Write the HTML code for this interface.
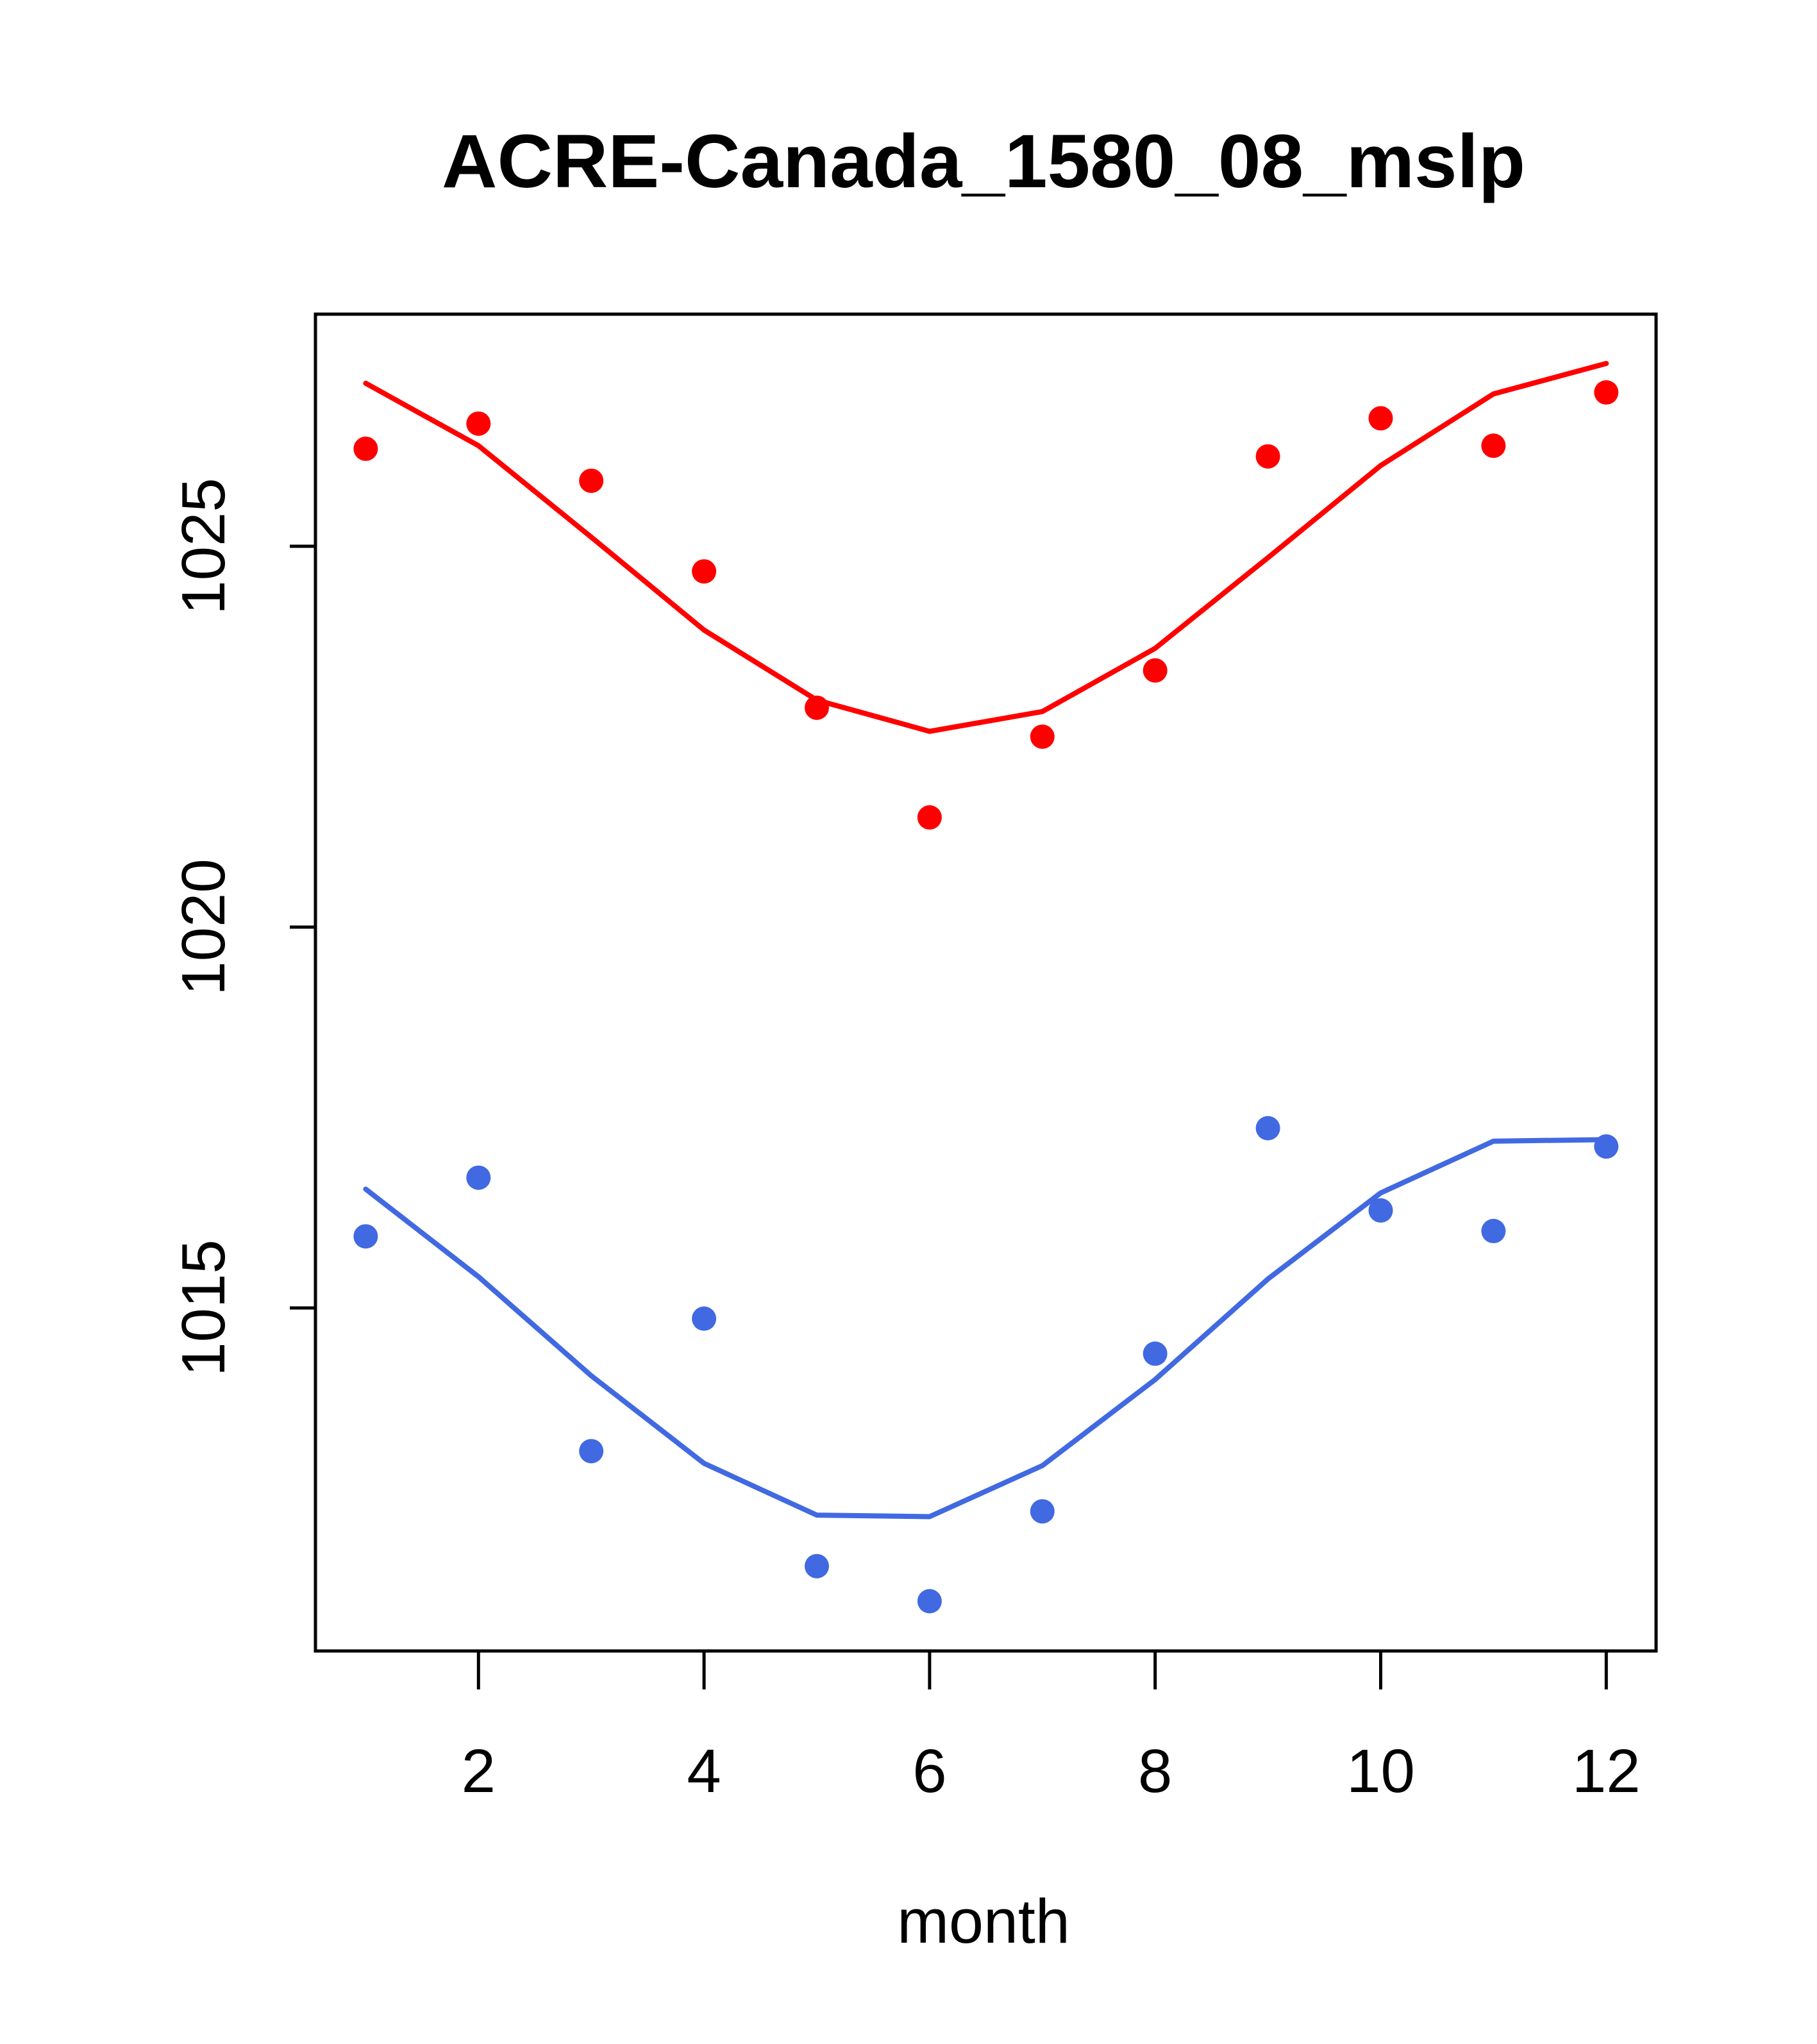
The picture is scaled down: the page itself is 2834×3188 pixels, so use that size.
<!DOCTYPE html>
<html><head><meta charset="utf-8"><style>body{margin:0;background:#fff}svg{display:block}</style></head>
<body>
<svg id="chart" width="2834" height="3188" viewBox="0 0 2834 3188" xmlns="http://www.w3.org/2000/svg" font-family="Liberation Sans, sans-serif">
<rect width="2834" height="3188" fill="#fff"/>
<text x="1534" y="292" font-size="118" font-weight="bold" text-anchor="middle" textLength="1690" lengthAdjust="spacingAndGlyphs">ACRE-Canada_1580_08_mslp</text>
<rect x="492" y="490" width="2091" height="2085" fill="none" stroke="#000" stroke-width="5"/>
<g id="axes"></g>
<g id="series"></g>
<text x="1534" y="3030" font-size="97" text-anchor="middle">month</text>
</svg>
<script>
const months = [1,2,3,4,5,6,7,8,9,10,11,12];
const xTicks = [2,4,6,8,10,12];
const yTicks = [1015,1020,1025];
const redPoints = [1026.28,1026.61,1025.86,1024.67,1022.88,1021.44,1022.50,1023.37,1026.18,1026.68,1026.32,1027.02];
const redLine = [1027.14,1026.32,1025.12,1023.90,1022.98,1022.57,1022.83,1023.66,1024.85,1026.06,1027.00,1027.40];
const bluePoints = [1015.94,1016.71,1013.12,1014.86,1011.61,1011.15,1012.33,1014.40,1017.36,1016.28,1016.01,1017.12];
const blueLine = [1016.56,1015.41,1014.11,1012.96,1012.28,1012.26,1012.93,1014.06,1015.38,1016.51,1017.19,1017.21];

const NS = "http://www.w3.org/2000/svg";
function X(m){ return 570.4 + 175.9*(m-1); }
function Y(v){ return 1446 - 118.8*(v-1020); }
function mk(tag, attrs, parent){ const e=document.createElementNS(NS,tag); for(const k in attrs) e.setAttribute(k,attrs[k]); parent.appendChild(e); return e; }
const axes=document.getElementById('axes'), series=document.getElementById('series');
xTicks.forEach(t=>{
  const l=mk('line',{x1:X(t),x2:X(t),y1:2575,y2:2635,stroke:'#000','stroke-width':5},axes);
  
  
  const tx=mk('text',{x:X(t),y:2795,'font-size':96,'text-anchor':'middle'},axes);
  tx.textContent=t;
  
  
});
yTicks.forEach(t=>{
  const l=mk('line',{x1:452,x2:492,y1:Y(t),y2:Y(t),stroke:'#000','stroke-width':5},axes);
  
  
  const tx=mk('text',{x:0,y:0,'font-size':96,'text-anchor':'middle',transform:`translate(350,${Y(t)}) rotate(-90)`},axes);
  tx.textContent=t;
  
  
});
function drawSeries(line, pts, color, name){
  const p=mk('polyline',{points:months.map((m,i)=>X(m)+','+Y(line[i])).join(' '),fill:'none',stroke:color,'stroke-width':8,'stroke-linecap':'round','stroke-linejoin':'round'},series);
  
  
  months.forEach((m,i)=>{
    const c=mk('circle',{cx:X(m),cy:Y(pts[i]),r:19,fill:color},series);
    
    
  });
}
drawSeries(redLine, redPoints, '#ff0000', 'red');
drawSeries(blueLine, bluePoints, '#4169e1', 'blue');
</script>
</body></html>
